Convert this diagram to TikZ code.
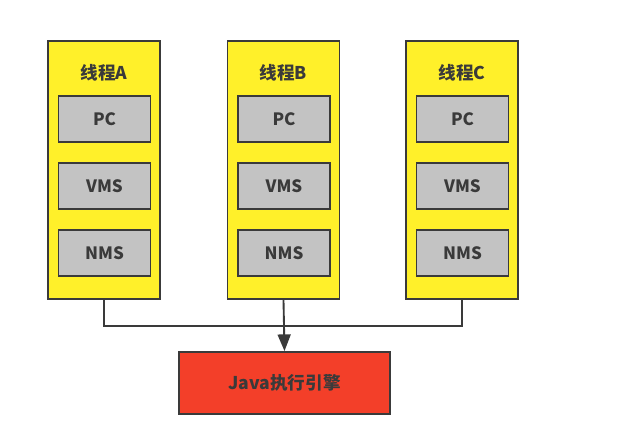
\documentclass[tikz,border=0pt]{standalone}
\usepackage{fontspec}
\setmainfont{Noto Sans CJK SC}
\usepackage{tikz}
\usetikzlibrary{arrows.meta}

\definecolor{threadyellow}{HTML}{FFF02A}
\definecolor{boxgray}{HTML}{C3C3C3}
\definecolor{engred}{HTML}{F33F29}
\definecolor{edgegray}{HTML}{3A3A3A}

\tikzset{
    thread/.style={rectangle,draw=edgegray,line width=1.6pt,fill=threadyellow,minimum width=3.36cm,minimum height=7.74cm},
    part/.style={rectangle,draw=edgegray,line width=1.6pt,fill=boxgray,minimum width=2.76cm,minimum height=1.38cm,font=\bfseries\fontsize{14.5}{16}\selectfont,text=edgegray},
    tname/.style={font=\bfseries\fontsize{15}{17}\selectfont,text=edgegray},
    engine/.style={rectangle,draw=edgegray,line width=1.6pt,fill=engred,minimum width=6.33cm,minimum height=1.86cm,font=\bfseries\fontsize{15}{17}\selectfont,text=edgegray}
}

\begin{document}
\begin{tikzpicture}[x=0.03cm,y=-0.03cm]
    \useasboundingbox (0,0) rectangle (638,422);
    \node[thread] (TA) at (104,170) {};
    \node[thread] (TB) at (283.5,170) {};
    \node[thread] (TC) at (462,170) {};
    \node[tname] (LA) at (104,73) {线程A};
    \node[tname] (LB) at (283.5,73) {线程B};
    \node[tname] (LC) at (462,73) {线程C};
    \node[part] (PA) at (104.5,119) {PC};
    \node[part] (PB) at (284,119) {PC};
    \node[part] (PC) at (462.5,119) {PC};
    \node[part] (VA) at (104.5,186) {VMS};
    \node[part] (VB) at (284,186) {VMS};
    \node[part] (VC) at (462.5,186) {VMS};
    \node[part] (NA) at (104.5,253) {NMS};
    \node[part] (NB) at (284,253) {NMS};
    \node[part] (NC) at (462.5,253) {NMS};
    \node[engine] (JE) at (284.5,383) {Java执行引擎};
    \coordinate (J) at (283.5,326);
    \draw[edgegray,line width=1.6pt] (TA.south) |- (J);
    \draw[edgegray,line width=1.6pt] (TC.south) |- (J);
    \draw[edgegray,line width=1.6pt,-{Triangle[length=5mm,width=3.9mm]}] (TB.south) -- (JE.north);
\end{tikzpicture}
\end{document}
